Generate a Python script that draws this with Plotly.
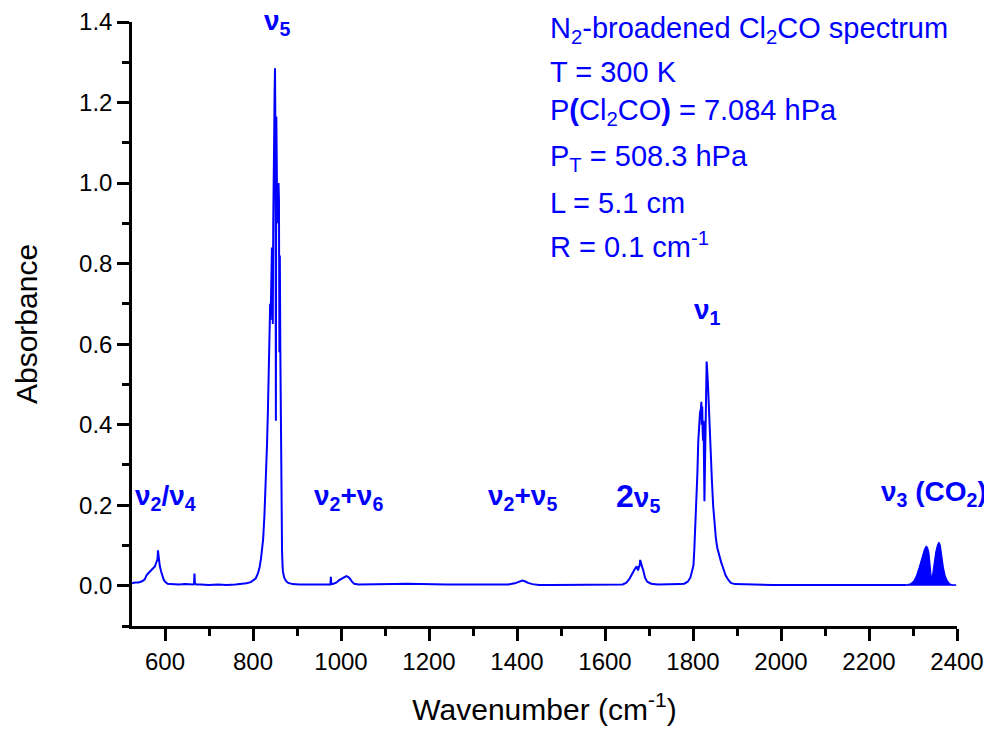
import plotly.graph_objects as go

# ---- data ----
wn_main = [
    525, 532, 540, 548, 554, 558, 562, 566, 570, 574, 577, 579, 581, 583, 584, 586, 588, 591, 594,
    597, 601, 606, 612, 620, 632, 645, 655, 664, 666, 667, 668, 671, 680, 700, 720, 740, 760, 775,
    785, 795, 802, 806, 811, 815, 818, 821, 823, 826, 828, 830, 832, 834, 836, 838, 839, 840, 841,
    842, 843, 844, 845, 846, 847, 848, 849, 850, 851, 852, 853, 854, 855, 856, 857, 858, 859, 860,
    861, 862, 863, 864, 865, 866, 867, 868, 871, 875, 880, 890, 905, 925, 945, 965, 975, 976, 977,
    978, 983, 990, 996, 1002, 1008, 1012, 1016, 1020, 1025, 1030, 1040, 1060, 1090, 1120, 1150,
    1180, 1210, 1240, 1270, 1300, 1330, 1360, 1380, 1395, 1405, 1412, 1418, 1425, 1435, 1450, 1480,
    1510, 1540, 1570, 1600, 1620, 1630, 1640, 1648, 1655, 1661, 1665, 1669, 1672, 1675, 1677, 1679,
    1680, 1682, 1684, 1687, 1691, 1696, 1705, 1720, 1740, 1760, 1771, 1780, 1788, 1794, 1798, 1801,
    1803, 1805, 1808, 1810, 1812, 1814, 1816, 1818, 1819, 1820, 1821, 1822, 1823, 1824, 1825, 1826,
    1828, 1830, 1831, 1832, 1834, 1836, 1838, 1840, 1843, 1846, 1849, 1852, 1855, 1858, 1861, 1864,
    1867, 1870, 1874, 1880, 1886, 1895, 1920, 1950, 1980, 2010, 2040, 2070, 2100, 2130, 2160, 2190,
    2220, 2250, 2270, 2285,
]
abs_main = [
    0.006, 0.008, 0.008, 0.011, 0.016, 0.026, 0.031, 0.035, 0.039, 0.043, 0.048, 0.054, 0.060, 0.066, 0.088, 0.058, 0.050, 0.036, 0.024,
    0.015, 0.009, 0.005, 0.004, 0.003, 0.003, 0.004, 0.003, 0.003, 0.004, 0.030, 0.006, 0.003, 0.003, 0.002, 0.003, 0.002, 0.003, 0.004,
    0.006, 0.009, 0.014, 0.018, 0.030, 0.046, 0.066, 0.090, 0.115, 0.175, 0.225, 0.285, 0.355, 0.440, 0.525, 0.615, 0.700, 0.660, 0.780,
    0.720, 0.840, 0.800, 0.650, 0.900, 0.960, 1.100, 1.220, 1.285, 1.120, 0.410, 1.165, 1.020, 0.930, 0.990, 0.900, 1.000, 0.960, 0.580,
    0.820, 0.600, 0.400, 0.260, 0.140, 0.085, 0.055, 0.035, 0.020, 0.012, 0.007, 0.004, 0.003, 0.003, 0.002, 0.003, 0.003, 0.003, 0.022,
    0.004, 0.005, 0.008, 0.014, 0.018, 0.022, 0.024, 0.022, 0.018, 0.010, 0.005, 0.003, 0.003, 0.003, 0.004, 0.005,
    0.004, 0.004, 0.003, 0.003, 0.003, 0.003, 0.003, 0.003, 0.006, 0.010, 0.013, 0.011, 0.007, 0.004, 0.002, 0.002,
    0.002, 0.002, 0.002, 0.002, 0.002, 0.003, 0.003, 0.007, 0.016, 0.028, 0.038, 0.044, 0.048, 0.038, 0.046, 0.052, 0.064,
    0.050, 0.048, 0.038, 0.020, 0.010, 0.005, 0.003, 0.003, 0.003, 0.004, 0.005, 0.010, 0.020, 0.035, 0.050, 0.090,
    0.140, 0.195, 0.280, 0.360, 0.400, 0.430, 0.440, 0.457, 0.400, 0.445, 0.380, 0.360, 0.410, 0.300, 0.210, 0.350,
    0.500, 0.557, 0.540, 0.500, 0.440, 0.400, 0.330, 0.260, 0.196, 0.150, 0.118, 0.095, 0.080, 0.068, 0.058, 0.049,
    0.038, 0.026, 0.015, 0.007, 0.004, 0.003, 0.002, 0.002, 0.002, 0.002, 0.002, 0.002, 0.002, 0.002, 0.002, 0.002,
    0.002, 0.002, 0.002, 0.002,
]
wn_co2 = [
    2285, 2295, 2302, 2308, 2314, 2318, 2322, 2326, 2330, 2333, 2336, 2339, 2342, 2345, 2348, 2352,
    2356, 2359, 2362, 2365, 2369, 2373, 2378, 2384, 2390, 2398,
]
abs_co2 = [
    0.002, 0.005, 0.012, 0.025, 0.045, 0.062, 0.078, 0.090, 0.098, 0.095, 0.082, 0.050, 0.015, 0.030, 0.060, 0.085,
    0.102, 0.108, 0.100, 0.075, 0.045, 0.025, 0.012, 0.004, 0.002, 0.002,
]

band_labels = ["ν<sub>5</sub>", "ν<sub>1</sub>", "ν<sub>2</sub>/ν<sub>4</sub>", "ν<sub>2</sub>+ν<sub>6</sub>",
               "ν<sub>2</sub>+ν<sub>5</sub>", "<span style='font-size:32px'>2</span>ν<sub>5</sub>",
               "ν<sub>3</sub> (CO<sub>2</sub>)"]
band_x = [855, 1833, 602, 1016, 1412, 1676, 2347]
band_y = [1.40, 0.68, 0.218, 0.218, 0.218, 0.22, 0.23]

info_lines = ["N<sub>2</sub>-broadened Cl<sub>2</sub>CO spectrum", "T = 300 K",
              "P<b>(</b>Cl<sub>2</sub>CO<b>)</b> = 7.084 hPa", "P<sub>T</sub> = 508.3 hPa",
              "L = 5.1 cm", "R = 0.1 cm<sup>-1</sup>"]

x_ticks = [600, 800, 1000, 1200, 1400, 1600, 1800, 2000, 2200, 2400]
y_ticks = [0.0, 0.2, 0.4, 0.6, 0.8, 1.0, 1.2, 1.4]
Y_MIN, Y_MAX = -0.1, 1.4

BLUE = "#0000FF"
FONT = "Liberation Sans, Arial, sans-serif"

# page body adds an 8 px offset; figure is sized to fit the window
OFF = 8
W, H = 992 - OFF, 729 - OFF
L, R, T, B = 132 - OFF, 35, 22 - OFF, 103
pw, ph = W - L - R, H - T - B

fig = go.Figure()
fig.add_trace(go.Scatter(x=wn_main, y=abs_main, mode="lines",
                         line=dict(color=BLUE, width=2), showlegend=False))
fig.add_trace(go.Scatter(x=wn_co2, y=abs_co2, mode="lines", fill="tozeroy",
                         fillcolor=BLUE, line=dict(color=BLUE, width=1.2), showlegend=False))

for t, x, y in zip(band_labels, band_x, band_y):
    # use axis-domain y so labels at the top of the axis range are still drawn
    fig.add_annotation(x=x, y=(y - Y_MIN) / (Y_MAX - Y_MIN), xref="x", yref="y domain",
                       text="<b>" + t + "</b>",
                       showarrow=False, xanchor="center", yanchor="middle",
                       font=dict(family=FONT, size=28, color=BLUE))

info_px = 548
info_py = [30, 72, 112, 158, 203, 245]
for t, py in zip(info_lines, info_py):
    fig.add_annotation(x=(info_px - OFF - L) / pw, y=(H - B - (py - OFF)) / ph,
                       xref="x domain", yref="y domain", text=t,
                       showarrow=False, xanchor="left", yanchor="middle",
                       font=dict(family=FONT, size=29, color=BLUE))

fig.update_layout(
    width=W, height=H,
    margin=dict(l=L, r=R, t=T, b=B, autoexpand=False),
    paper_bgcolor="white", plot_bgcolor="white",
    font=dict(family=FONT, color="black"),
    xaxis=dict(range=[525, 2400], tickvals=x_ticks, ticktext=[str(v) for v in x_ticks],
               showgrid=False, zeroline=False, showline=True, linecolor="black", linewidth=2.5,
               ticks="outside", ticklen=12, tickwidth=2.5, tickcolor="black",
               tickfont=dict(size=24, family=FONT),
               minor=dict(dtick=100, tick0=500, ticks="outside", ticklen=7, tickwidth=2.5, tickcolor="black"),
               title=dict(text="Wavenumber (cm<sup>-1</sup>)", font=dict(size=30, family=FONT), standoff=26)),
    yaxis=dict(range=[Y_MIN, Y_MAX], tickvals=y_ticks, ticktext=["%.1f" % v for v in y_ticks],
               showgrid=False, zeroline=False, showline=True, linecolor="black", linewidth=2.5,
               ticks="outside", ticklen=12, tickwidth=2.5, tickcolor="black",
               tickfont=dict(size=24, family=FONT),
               minor=dict(dtick=0.1, tick0=0, ticks="outside", ticklen=7, tickwidth=2.5, tickcolor="black"),
               title=dict(text="Absorbance", font=dict(size=30, family=FONT), standoff=33)),
)

fig.write_html("out.html")
